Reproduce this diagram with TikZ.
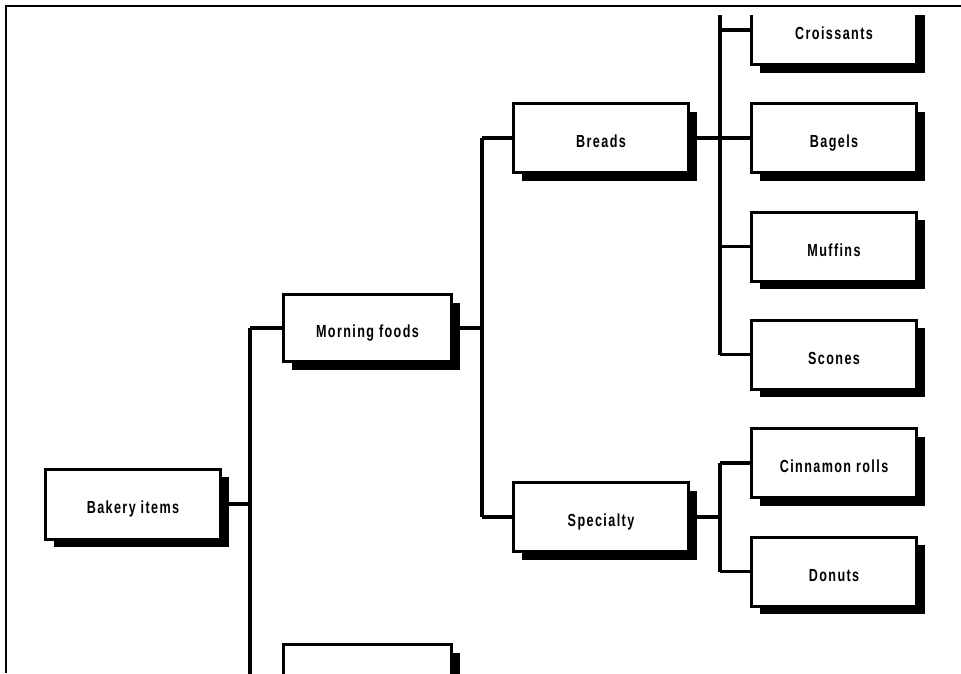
\documentclass[tikz,border=0pt]{standalone}
\usepackage{fontspec}
\setmainfont{Liberation Sans}[FakeStretch=0.72, LetterSpace=8]
\usetikzlibrary{shadows}
\begin{document}
\begin{tikzpicture}[x=1pt,y=-1pt,
  box/.style={draw=black, line width=3pt, fill=white, rectangle, inner sep=0pt,
    font=\fontsize{17.5}{19}\selectfont\bfseries, text height=19pt, text depth=0pt,
    drop shadow={shadow xshift=8pt, shadow yshift=-8pt, fill=black, opacity=1}},
  bigbox/.style={box, minimum width=175pt, minimum height=69pt},
  midbox/.style={box, minimum width=168pt, minimum height=67pt},
  leafbox/.style={box, minimum width=165pt, minimum height=69pt},
  link/.style={line width=3.2pt}]
\useasboundingbox (0,0) rectangle (961,673);
\fill[white] (0,0) rectangle (961,673);
\begin{scope}
\clip (8,15) rectangle (961,673);
% buses
\coordinate (b1top) at (250,328);
\coordinate (b1bot) at (250,680);
\coordinate (b2top) at (482,138);
\coordinate (b2bot) at (482,517);
\coordinate (b3top) at (720,10);
\coordinate (b3bot) at (720,354.5);
\coordinate (b4top) at (720,463);
\coordinate (b4bot) at (720,571.5);
\draw[link] (b1top) -- (b1bot);
\draw[link] (b2top) -- (b2bot);
\draw[link] (b3top) -- (b3bot);
\draw[link] (b4top) -- (b4bot);
% nodes
\node[bigbox, minimum height=70pt] (bakery) at (133,504) {Bakery items};
\node[midbox] (morning) at (367.5,328) {Morning foods};
\node[midbox] (other) at (367.5,678) {};
\node[bigbox] (breads) at (601,138) {Breads};
\node[bigbox] (special) at (601,517) {Specialty};
\node[leafbox] (croiss) at (834,30) {Croissants};
\node[leafbox] (bagels) at (834,138) {Bagels};
\node[leafbox] (muffins) at (834,246.5) {Muffins};
\node[leafbox] (scones) at (834,354.5) {Scones};
\node[leafbox] (cinna) at (834,463) {Cinnamon rolls};
\node[leafbox] (donuts) at (834,571.5) {Donuts};
% connectors
\draw[link] (bakery.east) -- (bakery.east -| b1top);
\draw[link] (morning.west) -- (morning.west -| b1top);
\draw[link] (other.west) -- (other.west -| b1top);
\draw[link] (morning.east) -- (morning.east -| b2top);
\draw[link] (breads.west) -- (breads.west -| b2top);
\draw[link] (special.west) -- (special.west -| b2top);
\draw[link] (breads.east) -- (breads.east -| b3top);
\draw[link] (special.east) -- (special.east -| b4top);
\foreach \n in {croiss,bagels,muffins,scones}
  \draw[link] (\n.west) -- (\n.west -| b3top);
\foreach \n in {cinna,donuts}
  \draw[link] (\n.west) -- (\n.west -| b4top);
\end{scope}
% frame
\coordinate (fa) at (6,6);
\coordinate (fb) at (961,6);
\coordinate (fc) at (6,673);
\draw[line width=2pt] (fb) -- (fa) -- (fc);
\end{tikzpicture}
\end{document}
